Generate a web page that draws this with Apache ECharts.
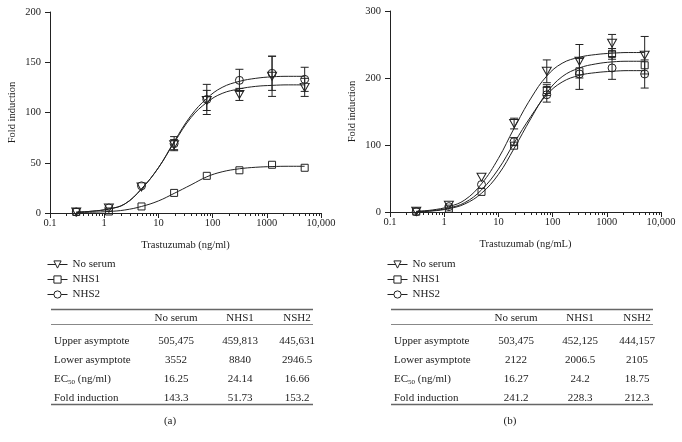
<!DOCTYPE html>
<html><head><meta charset="utf-8">
<script src="https://cdn.jsdelivr.net/npm/echarts@6/dist/echarts.min.js"></script>
<style>html,body{margin:0;padding:0;background:#fff}#c{width:682px;height:442px}</style>
</head><body><div id="c"></div>
<script>
// ---- data ----
const doses = [0.305, 1.22, 4.88, 19.5, 78.1, 312.5, 1250, 5000];
const curveX = [0.305, 0.6, 1.22, 2.4, 4.88, 10, 19.5, 40, 78.1, 150, 312.5, 625, 1250, 2500, 5000];
const seriesNames = ['No serum', 'NHS1', 'NHS2'];
const xTickLabels = ['0.1', '1', '10', '100', '1000', '10,000'];
const xMinorTicks = [0.2,0.3,0.4,0.5,0.6,0.7,0.8,0.9,2,3,4,5,6,7,8,9,20,30,40,50,60,70,80,90,200,300,400,500,600,700,800,900,2000,3000,4000,5000,6000,7000,8000,9000];

// Panel (a)
const aNoSerum    = [1, 5, 26, 68, 112, 118, 136, 125];
const aNoSerumErr = [0, 0, 0, 5, 10, 6, 20, 9];
const aNHS1       = [1, 1.5, 6.5, 20, 37, 42.5, 48, 45];
const aNHS1Err    = [0, 0, 0, 0, 0, 0, 0, 0];
const aNHS2       = [1, 5, 27, 69, 113, 132, 139, 133];
const aNHS2Err    = [0, 0, 0, 7, 15, 11, 17, 12];
const aCurveNoSerum = [0.8, 1.8, 4, 9, 24, 45, 70, 95, 110, 119, 123.5, 126, 127, 127.5, 127.5];
const aCurveNHS1    = [0.5, 0.8, 1.5, 3, 6.5, 12, 19.5, 28, 36, 41, 44, 45.5, 46.2, 46.5, 46.5];
const aCurveNHS2    = [0.8, 1.8, 4, 9, 24, 45, 71, 97, 114, 125, 131, 134, 135.5, 136, 136];

// Panel (b)
const bNoSerum    = [1, 10, 52, 132, 210, 225, 252, 234];
const bNoSerumErr = [0, 0, 0, 8, 17, 25, 13, 28];
const bNHS1       = [0.5, 5, 30, 99, 182, 210, 236, 219];
const bNHS1Err    = [0, 0, 0, 0, 8, 0, 8, 0];
const bNHS2       = [0.5, 8, 41, 105, 175, 206, 215, 206];
const bNHS2Err    = [0, 0, 0, 6, 11, 23, 17, 21];
const bCurveNoSerum = [1, 3, 8, 18, 42, 80, 125, 170, 203, 222, 231, 235, 237, 238, 238];
const bCurveNHS1    = [0.5, 1.5, 5, 12, 28, 56, 95, 140, 178, 202, 215, 221, 224, 225, 225];
const bCurveNHS2    = [0.8, 2, 6, 14, 33, 64, 103, 143, 175, 194, 204, 208, 210, 211, 211];

// Tables
const tableColumns = ['No serum', 'NHS1', 'NSH2'];
const tableRowLabels = ['Upper asymptote', 'Lower asymptote', 'EC{sub|50} (ng/ml)', 'Fold induction'];
const tableA = [['505,475','459,813','445,631'],['3552','8840','2946.5'],['16.25','24.14','16.66'],['143.3','51.73','153.2']];
const tableB = [['503,475','452,125','444,157'],['2122','2006.5','2105'],['16.27','24.2','18.75'],['241.2','228.3','212.3']];

// ---- styling ----
const FONT = '"Liberation Serif", "DejaVu Serif", serif';
const INK = '#222';
const symbols = ['path://M0,0L10,0L5,8.66Z', 'rect', 'circle'];
const symbolSizes = [[9, 8], 7, 8];

const chart = echarts.init(document.getElementById('c'), null, {renderer: 'canvas'});

const panels = [
  {left: 50, top: 12, ymax: 200, yint: 50, xname: 'Trastuzumab (ng/ml)',
   pts: [aNoSerum, aNHS1, aNHS2], errs: [aNoSerumErr, aNHS1Err, aNHS2Err],
   curves: [aCurveNoSerum, aCurveNHS1, aCurveNHS2]},
  {left: 390, top: 11, ymax: 300, yint: 100, xname: 'Trastuzumab (ng/mL)',
   pts: [bNoSerum, bNHS1, bNHS2], errs: [bNoSerumErr, bNHS1Err, bNHS2Err],
   curves: [bCurveNoSerum, bCurveNHS1, bCurveNHS2]}
];

const grids = [], xAxes = [], yAxes = [], series = [], legends = [];

function renderErr(params, api) {
  const x = api.value(0), lo = api.value(1), hi = api.value(2);
  const a = api.coord([x, lo]), b = api.coord([x, hi]);
  const w = 4;
  const st = {stroke: INK, lineWidth: 1};
  return {type: 'group', children: [
    {type: 'line', shape: {x1: a[0], y1: a[1], x2: b[0], y2: b[1]}, style: st},
    {type: 'line', shape: {x1: a[0]-w, y1: a[1], x2: a[0]+w, y2: a[1]}, style: st},
    {type: 'line', shape: {x1: b[0]-w, y1: b[1], x2: b[0]+w, y2: b[1]}, style: st}
  ]};
}
// minor ticks of the log axis, placed through the axis scale
function renderMinorTick(params, api) {
  const c = api.coord([api.value(0), api.value(1)]);
  const x = Math.round(c[0]) + 0.5, y = Math.round(c[1]);
  return {type: 'group', children: [
    {type: 'line', shape: {x1: x, y1: y, x2: x, y2: y + 3}, style: {stroke: INK, lineWidth: 1}}
  ]};
}

panels.forEach((p, pi) => {
  grids.push({left: p.left, top: p.top, width: 271, height: 201});
  xAxes.push({
    type: 'log', logBase: 10, min: 0.1, max: 10000, gridIndex: pi, position: 'bottom',
    name: p.xname, nameLocation: 'middle', nameGap: 27,
    nameTextStyle: {fontFamily: FONT, fontSize: 10.5, color: INK},
    axisLine: {lineStyle: {color: INK, width: 1}},
    axisTick: {length: 5, lineStyle: {color: INK}},
    axisLabel: {margin: 5, fontFamily: FONT, fontSize: 10.5, color: INK,
      formatter: v => xTickLabels[Math.round(Math.log10(v)) + 1]},
    splitLine: {show: false}, minorTick: {show: false}
  });
  yAxes.push({
    type: 'value', min: 0, max: p.ymax, interval: p.yint, gridIndex: pi,
    name: 'Fold induction', nameLocation: 'middle', nameGap: 32,
    nameTextStyle: {fontFamily: FONT, fontSize: 10.5, color: INK},
    axisLine: {show: true, lineStyle: {color: INK, width: 1}},
    axisTick: {show: true, length: 5, lineStyle: {color: INK}},
    axisLabel: {margin: 9, fontFamily: FONT, fontSize: 10.5, color: INK},
    splitLine: {show: false}
  });
  const xi = pi, yi = pi;
  seriesNames.forEach((nm, si) => {
    series.push({
      type: 'line', name: nm, xAxisIndex: xi, yAxisIndex: yi,
      data: curveX.map((x, k) => [x, p.curves[si][k]]),
      smooth: 0.4, showSymbol: false, symbol: symbols[si], symbolSize: symbolSizes[si],
      itemStyle: {color: '#fff', borderColor: INK, borderWidth: 1},
      lineStyle: {color: INK, width: 1}, silent: true, z: 2, animation: false
    });
  });
  seriesNames.forEach((nm, si) => {
    const d = [];
    doses.forEach((x, k) => { const e = p.errs[si][k]; if (e > 0) d.push([x, p.pts[si][k] - e, p.pts[si][k] + e]); });
    series.push({
      type: 'custom', name: nm + ' err', xAxisIndex: xi, yAxisIndex: yi,
      renderItem: renderErr, data: d, encode: {x: 0, y: [1, 2]}, silent: true, z: 3, animation: false
    });
  });
  seriesNames.forEach((nm, si) => {
    series.push({
      type: 'scatter', name: nm + ' data', xAxisIndex: xi, yAxisIndex: yi,
      data: doses.map((x, k) => [x, p.pts[si][k]]),
      symbol: symbols[si], symbolSize: symbolSizes[si],
      itemStyle: {color: 'rgba(255,255,255,0)', borderColor: INK, borderWidth: 1, opacity: 1},
      silent: true, z: 4, animation: false
    });
  });
  // minor ticks
  series.push({
    type: 'custom', name: 'minor ticks ' + pi, xAxisIndex: xi, yAxisIndex: yi,
    renderItem: renderMinorTick, data: xMinorTicks.map(v => [v, 0]), encode: {x: 0, y: 1},
    clip: false, silent: true, z: 5, animation: false
  });
  legends.push({
    data: seriesNames, orient: 'vertical', left: p.left - 3, top: 259,
    itemWidth: 20, itemHeight: 9, itemGap: 4, selectedMode: false, padding: 0,
    textStyle: {fontFamily: FONT, fontSize: 11, color: INK, padding: [0, 0, 0, 0]},
    itemStyle: {color: '#fff', borderColor: INK, borderWidth: 1},
    lineStyle: {color: INK, width: 1}
  });
});

const graphics = [];
function tableFor(ox, rows, caption) {
  const txt = (t, x, y, align) => ({type: 'text', x: x, y: y, silent: true,
    style: {text: t, font: '11px ' + FONT, fill: INK, align: align, verticalAlign: 'middle',
      rich: {sub: {fontSize: 7, fontFamily: FONT, fill: INK, verticalAlign: 'bottom', lineHeight: 13}}}});
  const L = ox + 51, R = ox + 313;
  const cols = [ox + 176, ox + 240, ox + 297];
  graphics.push({type: 'line', shape: {x1: L, y1: 309.5, x2: R, y2: 309.5}, style: {stroke: '#666', lineWidth: 1.5}, silent: true});
  graphics.push({type: 'line', shape: {x1: L, y1: 324.5, x2: R, y2: 324.5}, style: {stroke: '#888', lineWidth: 1}, silent: true});
  graphics.push({type: 'line', shape: {x1: L, y1: 404.5, x2: R, y2: 404.5}, style: {stroke: '#666', lineWidth: 1.5}, silent: true});
  tableColumns.forEach((c, j) => graphics.push(txt(c, cols[j], 318, 'center')));
  const rowY = [341, 360, 379, 398];
  tableRowLabels.forEach((lab, i) => {
    graphics.push(txt(lab, ox + 54, rowY[i], 'left'));
    rows[i].forEach((v, j) => graphics.push(txt(v, cols[j], rowY[i], 'center')));
  });
  graphics.push(txt(caption, ox + 170, 421, 'center'));
}
tableFor(0, tableA, '(a)');
tableFor(340, tableB, '(b)');

chart.setOption({
  animation: false,
  backgroundColor: '#fff',
  grid: grids, xAxis: xAxes, yAxis: yAxes, series: series, legend: legends,
  graphic: graphics
});
</script></body></html>
